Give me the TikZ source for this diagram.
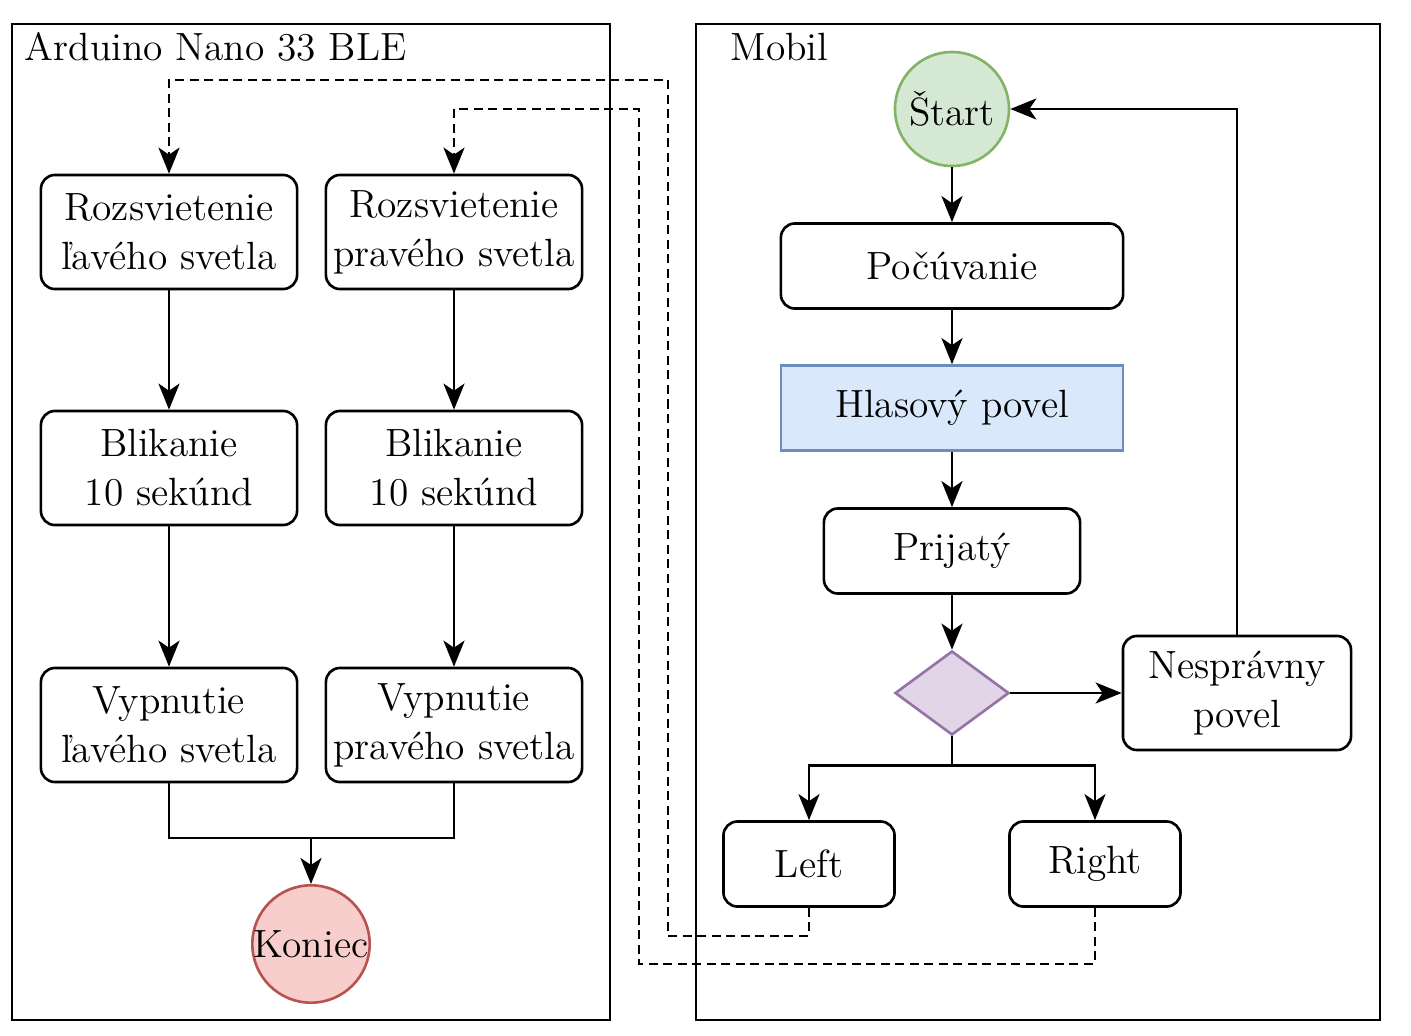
\documentclass[tikz,border=0pt]{standalone}
\usepackage{fontspec}
\usetikzlibrary{arrows.meta,shapes.geometric,positioning}

\definecolor{startgreen}{HTML}{D5E8D4}
\definecolor{startline}{HTML}{82B366}
\definecolor{endred}{HTML}{F8CECC}
\definecolor{endline}{HTML}{B85450}
\definecolor{voiceblue}{HTML}{DAE8FC}
\definecolor{voiceline}{HTML}{6C8EBF}
\definecolor{decpurple}{HTML}{E1D5E7}
\definecolor{decline}{HTML}{9673A6}

\tikzset{
  box/.style={draw, rounded corners=0.14cm, line width=0.75pt, align=center, inner sep=0pt,
              minimum width=2.56cm, minimum height=1.14cm},
  flat/.style={box, minimum width=3.42cm, minimum height=0.85cm},
  term/.style={circle, line width=0.75pt, inner sep=0pt, minimum size=1.14cm},
  flow/.style={line width=0.75pt, -{Stealth[length=0.26cm, width=0.21cm, inset=0.07cm]}},
  link/.style={flow, dash pattern=on 0.09cm off 0.055cm},
}

\begin{document}
\begin{tikzpicture}[x=0.01cm, y=-0.01cm, font=\fontsize{11.2}{13.9}\selectfont]
\useasboundingbox (0,0) rectangle (1411,1036);

% containers
\draw[line width=0.75pt] (12,24) rectangle (610,1020);
\draw[line width=0.75pt] (696,24) rectangle (1380,1020);
\node[anchor=west, inner sep=0pt] (ardlabel) at (24,47) {Arduino Nano 33 BLE};
\node[anchor=west, inner sep=0pt] (moblabel) at (730,47) {Mobil};

% phone side
\node[term, draw=startline, fill=startgreen] (start) at (952,109) {Štart};
\node[flat] (listen) at (952,266) {Počúvanie};
\node[flat, rounded corners=0pt, draw=voiceline, fill=voiceblue] (voice) at (952,408) {Hlasový povel};
\node[box, minimum height=0.85cm] (recv) at (952,551) {Prijatý};
\node[diamond, draw=decline, fill=decpurple, line width=0.75pt, inner sep=0pt,
      minimum width=1.14cm, minimum height=0.84cm] (dec) at (952,693) {};
\node[box, minimum width=2.28cm] (wrong) at (1237,693) {Nesprávny\\povel};
\node[box, minimum width=1.71cm, minimum height=0.85cm] (left) at (809,864) {Left};
\node[box, minimum width=1.71cm, minimum height=0.85cm] (right) at (1095,864) {Right};

% board side
\node[box] (lon) at (169,232) {Rozsvietenie\\ľavého svetla};
\node[box] (ron) at (454,232) {Rozsvietenie\\pravého svetla};
\node[box] (lblink) at (169,468) {Blikanie\\10 sekúnd};
\node[box] (rblink) at (454,468) {Blikanie\\10 sekúnd};
\node[box] (loff) at (169,725) {Vypnutie\\ľavého svetla};
\node[box] (roff) at (454,725) {Vypnutie\\pravého svetla};
\node[term, draw=endline, fill=endred] (koniec) at (311,944) {Koniec};
\coordinate (join) at (311,838);

% phone flow
\draw[flow] (start) -- (listen);
\draw[flow] (listen) -- (voice);
\draw[flow] (voice) -- (recv);
\draw[flow] (recv) -- (dec);
\draw[flow] (dec) -- (wrong);
\draw[flow] (wrong.north) |- (start.east);
\draw[flow] (dec.south) -- ++(0,29) -| (left.north);
\draw[flow] (dec.south) -- ++(0,29) -| (right.north);

% board flow
\draw[flow] (lon) -- (lblink);
\draw[flow] (lblink) -- (loff);
\draw[flow] (ron) -- (rblink);
\draw[flow] (rblink) -- (roff);
\draw[line width=0.75pt] (loff.south) |- (join) -| (roff.south);
\draw[flow] (join) -- (koniec.north);

% bluetooth commands
\draw[link] (left.south) -- ++(0,28) -| (668,80) -| (lon.north);
\draw[link] (right.south) -- ++(0,56) -| (639,109) -| (ron.north);

\end{tikzpicture}
\end{document}
